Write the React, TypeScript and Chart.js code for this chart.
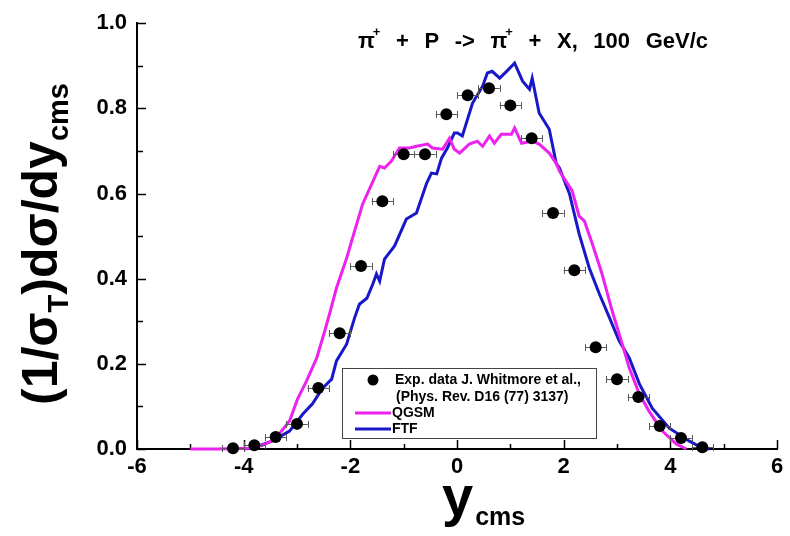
import React, { useEffect, useRef } from "react";
import { Chart, registerables } from "chart.js";

Chart.register(...registerables);

const FONT = '"Liberation Sans", Arial, Helvetica, sans-serif';

// Experimental points (J. Whitmore et al.)
const expRapidity = [-4.2, -3.8, -3.4, -3.0, -2.6, -2.2, -1.8, -1.4, -1.0, -0.6, -0.2, 0.2, 0.6, 1.0, 1.4, 1.8, 2.2, 2.6, 3.0, 3.4, 3.8, 4.2, 4.6];
const expValue = [0.002, 0.009, 0.028, 0.059, 0.143, 0.272, 0.43, 0.582, 0.692, 0.692, 0.786, 0.831, 0.847, 0.807, 0.73, 0.554, 0.42, 0.239, 0.164, 0.122, 0.054, 0.026, 0.004];
const expXErr = [0.2, 0.2, 0.2, 0.2, 0.2, 0.2, 0.2, 0.2, 0.2, 0.2, 0.2, 0.2, 0.2, 0.2, 0.2, 0.2, 0.2, 0.2, 0.2, 0.2, 0.2, 0.2, 0.2];

// QGSM model curve
const qgsmRapidity = [-5.0, -4.5, -3.9, -3.66, -3.42, -3.14, -2.99, -2.82, -2.63, -2.48, -2.39, -2.26, -2.07, -1.92, -1.77, -1.6, -1.45, -1.36, -1.23, -1.08, -0.89, -0.76, -0.55, -0.46, -0.27, -0.14, -0.05, 0.05, 0.23, 0.38, 0.48, 0.61, 0.7, 0.83, 1.02, 1.08, 1.21, 1.41, 1.54, 1.73, 1.86, 1.92, 2.16, 2.29, 2.39, 2.54, 2.72, 2.91, 3.08, 3.23, 3.42, 3.6, 3.85, 4.11, 4.3];
const qgsmValue = [0, 0, 0.002, 0.008, 0.022, 0.066, 0.117, 0.16, 0.214, 0.277, 0.317, 0.378, 0.448, 0.512, 0.575, 0.622, 0.664, 0.66, 0.676, 0.707, 0.707, 0.711, 0.716, 0.707, 0.704, 0.73, 0.704, 0.695, 0.716, 0.723, 0.711, 0.735, 0.718, 0.739, 0.739, 0.754, 0.718, 0.723, 0.716, 0.695, 0.671, 0.653, 0.606, 0.547, 0.535, 0.481, 0.411, 0.324, 0.254, 0.19, 0.129, 0.089, 0.042, 0.012, 0];

// FTF model curve
const ftfRapidity = [-4.0, -3.83, -3.46, -3.14, -2.89, -2.71, -2.52, -2.35, -2.26, -2.07, -1.92, -1.83, -1.69, -1.58, -1.51, -1.45, -1.36, -1.17, -0.95, -0.76, -0.57, -0.48, -0.38, -0.29, -0.18, -0.05, 0.01, 0.1, 0.29, 0.48, 0.57, 0.66, 0.8, 0.93, 1.08, 1.23, 1.36, 1.41, 1.54, 1.73, 1.86, 1.92, 2.11, 2.29, 2.48, 2.67, 2.86, 3.04, 3.23, 3.42, 3.66, 3.98, 4.35, 4.6, 4.73];
const ftfValue = [0, 0.002, 0.019, 0.042, 0.082, 0.106, 0.143, 0.164, 0.207, 0.246, 0.308, 0.34, 0.354, 0.387, 0.411, 0.394, 0.446, 0.477, 0.54, 0.554, 0.624, 0.648, 0.646, 0.683, 0.707, 0.742, 0.742, 0.735, 0.812, 0.852, 0.883, 0.887, 0.871, 0.887, 0.906, 0.864, 0.845, 0.871, 0.789, 0.751, 0.671, 0.66, 0.599, 0.505, 0.425, 0.364, 0.308, 0.254, 0.214, 0.153, 0.096, 0.049, 0.019, 0.002, 0];

// Axis ticks
const xMajorTicks = [-6, -4, -2, 0, 2, 4, 6];
const xMinorTicks = [-5, -3, -1, 1, 3, 5];
const yMajorTicks = [0, 0.2, 0.4, 0.6, 0.8, 1.0];
const yMinorTicks = [0.1, 0.3, 0.5, 0.7, 0.9];

const QGSM_COLOR = "#ee22ee";
const FTF_COLOR = "#1818c8";

const titleTokens: { text: string; sup?: string }[] = [
  { text: "π", sup: "+" },
  { text: "+" },
  { text: "P" },
  { text: "->" },
  { text: "π", sup: "+" },
  { text: "+" },
  { text: "X," },
  { text: "100" },
  { text: "GeV/c" },
];

const decorPlugin = {
  id: "decor",
  beforeDatasetsDraw(chart: any) {
    const ctx: CanvasRenderingContext2D = chart.ctx;
    const xs = chart.scales.x;
    const ys = chart.scales.y;
    const area = chart.chartArea;
    ctx.save();
    ctx.strokeStyle = "#000";
    ctx.lineWidth = 1.5;
    ctx.beginPath();
    xMajorTicks.forEach((v) => {
      const px = Math.round(xs.getPixelForValue(v)) + 0.5;
      ctx.moveTo(px, area.bottom);
      ctx.lineTo(px, area.bottom - 9);
    });
    xMinorTicks.forEach((v) => {
      const px = Math.round(xs.getPixelForValue(v)) + 0.5;
      ctx.moveTo(px, area.bottom);
      ctx.lineTo(px, area.bottom - 5);
    });
    yMajorTicks.forEach((v) => {
      const py = Math.round(ys.getPixelForValue(v)) + 0.5;
      ctx.moveTo(area.left, py);
      ctx.lineTo(area.left + 9, py);
    });
    yMinorTicks.forEach((v) => {
      const py = Math.round(ys.getPixelForValue(v)) + 0.5;
      ctx.moveTo(area.left, py);
      ctx.lineTo(area.left + 6, py);
    });
    ctx.stroke();
    ctx.restore();
  },
  beforeDatasetDraw(chart: any, args: any) {
    if (args.index !== 0) return;
    const ctx: CanvasRenderingContext2D = chart.ctx;
    const xs = chart.scales.x;
    const ys = chart.scales.y;
    ctx.save();
    ctx.strokeStyle = "#5a5a5a";
    ctx.lineWidth = 1;
    ctx.beginPath();
    expRapidity.forEach((x, i) => {
      const py = Math.round(ys.getPixelForValue(expValue[i])) + 0.5;
      const x0 = xs.getPixelForValue(x - expXErr[i]);
      const x1 = xs.getPixelForValue(x + expXErr[i]);
      ctx.moveTo(x0, py);
      ctx.lineTo(x1, py);
      ctx.moveTo(Math.round(x0) + 0.5, py - 3.5);
      ctx.lineTo(Math.round(x0) + 0.5, py + 3.5);
      ctx.moveTo(Math.round(x1) + 0.5, py - 3.5);
      ctx.lineTo(Math.round(x1) + 0.5, py + 3.5);
    });
    ctx.stroke();
    ctx.restore();
  },
  afterDraw(chart: any) {
    const ctx: CanvasRenderingContext2D = chart.ctx;
    ctx.save();
    ctx.fillStyle = "#000";
    ctx.textBaseline = "alphabetic";
    ctx.textAlign = "left";

    // Title with superscripts, spread between fixed left and right edges
    const bigTitle = `bold 22px ${FONT}`;
    const supTitle = `bold 13px ${FONT}`;
    const titleLeft = 358;
    const titleRight = 708;
    const tBase = 48;
    const widths = titleTokens.map((tok) => {
      ctx.font = bigTitle;
      let w = ctx.measureText(tok.text).width;
      if (tok.sup) {
        ctx.font = supTitle;
        w += ctx.measureText(tok.sup).width - 2;
      }
      return w;
    });
    const total = widths.reduce((a, b) => a + b, 0);
    const gap = (titleRight - titleLeft - total) / (titleTokens.length - 1);
    let tx = titleLeft;
    titleTokens.forEach((tok, i) => {
      ctx.font = bigTitle;
      ctx.fillText(tok.text, tx, tBase);
      if (tok.sup) {
        const w = ctx.measureText(tok.text).width;
        ctx.font = supTitle;
        ctx.fillText(tok.sup, tx + w - 2, tBase - 12);
      }
      tx += widths[i] + gap;
    });

    // Y-axis title, rotated
    ctx.save();
    ctx.translate(57, 405);
    ctx.rotate(-Math.PI / 2);
    const yParts: { text: string; sub: boolean }[] = [
      { text: "(1/σ", sub: false },
      { text: "T", sub: true },
      { text: ")dσ/dy", sub: false },
      { text: "cms", sub: true },
    ];
    let ox = 0;
    yParts.forEach((p) => {
      ctx.font = p.sub ? `bold 29px ${FONT}` : `bold 50px ${FONT}`;
      ctx.fillText(p.text, ox, p.sub ? 11 : 0);
      ox += ctx.measureText(p.text).width;
    });
    ctx.restore();

    // X-axis title
    ctx.font = `bold 56px ${FONT}`;
    ctx.fillText("y", 442, 515);
    const yw = ctx.measureText("y").width;
    ctx.font = `bold 25px ${FONT}`;
    ctx.fillText("cms", 442 + yw + 2, 525);

    // Legend box
    const lx = 342, ly = 368, lw = 254, lh = 70;
    ctx.fillStyle = "#fff";
    ctx.fillRect(lx, ly, lw, lh);
    ctx.strokeStyle = "#444";
    ctx.lineWidth = 1;
    ctx.strokeRect(lx + 0.5, ly + 0.5, lw, lh);

    ctx.fillStyle = "#000";
    ctx.beginPath();
    ctx.arc(373, 380, 5.5, 0, Math.PI * 2);
    ctx.fill();

    ctx.font = `bold 14px ${FONT}`;
    ctx.textBaseline = "middle";
    ctx.fillText("Exp. data J. Whitmore et al.,", 395, 380);
    ctx.fillText("(Phys. Rev. D16 (77) 3137)", 396, 397);

    ctx.lineWidth = 3;
    ctx.strokeStyle = QGSM_COLOR;
    ctx.beginPath();
    ctx.moveTo(355, 413);
    ctx.lineTo(391, 413);
    ctx.stroke();
    ctx.fillText("QGSM", 392, 413);

    ctx.strokeStyle = FTF_COLOR;
    ctx.beginPath();
    ctx.moveTo(355, 429);
    ctx.lineTo(391, 429);
    ctx.stroke();
    ctx.fillText("FTF", 392, 429);

    ctx.restore();
  },
};

export default function App() {
  const canvasRef = useRef<HTMLCanvasElement | null>(null);

  useEffect(() => {
    const canvas = canvasRef.current;
    if (!canvas) return;

    const chart = new Chart(canvas, {
      type: "scatter",
      data: {
        datasets: [
          {
            label: "Exp. data J. Whitmore et al.",
            data: expRapidity.map((x, i) => ({ x, y: expValue[i] })),
            pointRadius: 6,
            pointBackgroundColor: "#000",
            pointBorderWidth: 0,
            showLine: false,
            clip: false,
          },
          {
            label: "QGSM",
            data: qgsmRapidity.map((x, i) => ({ x, y: qgsmValue[i] })),
            showLine: true,
            borderColor: QGSM_COLOR,
            borderWidth: 3,
            pointRadius: 0,
            tension: 0,
            clip: false,
          },
          {
            label: "FTF",
            data: ftfRapidity.map((x, i) => ({ x, y: ftfValue[i] })),
            showLine: true,
            borderColor: FTF_COLOR,
            borderWidth: 3,
            pointRadius: 0,
            tension: 0,
            clip: false,
          },
        ],
      },
      options: {
        responsive: false,
        animation: false,
        devicePixelRatio: 1,
        layout: { padding: { top: 23, right: 13, left: 0, bottom: 0 } },
        plugins: {
          legend: { display: false },
          tooltip: { enabled: false },
          title: { display: false },
        },
        scales: {
          x: {
            type: "linear",
            min: -6,
            max: 6,
            grid: { display: false, drawTicks: false },
            border: { display: true, color: "#000", width: 2 },
            ticks: {
              stepSize: 2,
              padding: 5,
              color: "#000",
              font: { family: FONT, size: 22, weight: "bold" },
              callback: (v: any) => String(Math.round(Number(v))),
            },
            afterFit: (scale: any) => {
              scale.height = 87;
            },
          },
          y: {
            type: "linear",
            min: 0,
            max: 1,
            grid: { display: false, drawTicks: false },
            border: { display: true, color: "#000", width: 2 },
            ticks: {
              stepSize: 0.2,
              padding: 10,
              color: "#000",
              font: { family: FONT, size: 22, weight: "bold" },
              callback: (v: any) => Number(v).toFixed(1),
            },
            afterFit: (scale: any) => {
              scale.width = 137;
            },
          },
        },
      },
      plugins: [decorPlugin],
    });

    return () => chart.destroy();
  }, []);

  return (
    <div style={{ position: "absolute", left: 0, top: 0, width: 790, height: 536, background: "#fff" }}>
      <canvas ref={canvasRef} width={790} height={536} style={{ display: "block" }} />
    </div>
  );
}
